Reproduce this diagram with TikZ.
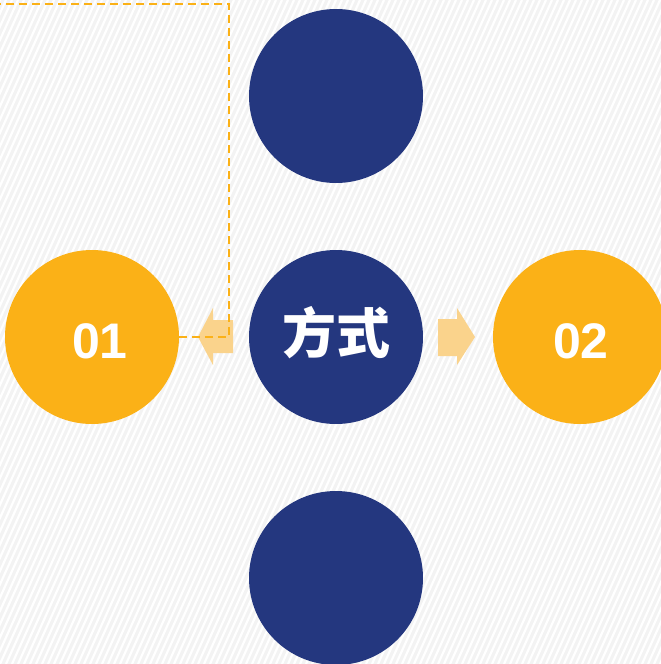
\documentclass[tikz,border=0pt]{standalone}
\usepackage{fontspec}
\setmainfont{Liberation Sans}
\newfontfamily\cjk{Noto Sans CJK SC}
\definecolor{navy}{HTML}{24377F}
\definecolor{gold}{HTML}{FBB117}
\definecolor{paleorange}{HTML}{FAD38C}
\definecolor{bggray}{HTML}{F3F3F3}
\begin{document}
\begin{tikzpicture}[x=1pt,y=-1pt,
  circ/.style={circle,minimum size=174pt,inner sep=0pt},
  navycirc/.style={circ,fill=navy},
  goldcirc/.style={circ,fill=gold},
  lbl/.style={text=white,font=\bfseries\fontsize{50}{50}\selectfont},
  cjklbl/.style={text=white,font=\cjk\bfseries\fontsize{54}{54}\selectfont},
  dashline/.style={draw=gold,line width=1.8pt,dash pattern=on 8pt off 5pt},
  arrowfill/.style={fill=paleorange}]
\useasboundingbox (0,0) rectangle (661,664);
\fill[bggray] (0,0) rectangle (661,664);
\begin{scope}
\clip (0,0) rectangle (661,664);
\foreach \i in {-300,-294,...,700}{
  \draw[white,line width=2.2pt] (\i,664) -- (\i+300,0);
}
\end{scope}
% circles
\node[navycirc] (top) at (336,96) {};
\node[navycirc] (mid) at (336,337) {};
\node[navycirc] (bot) at (336,578) {};
\node[goldcirc] (left) at (92,337) {};
\node[goldcirc] (right) at (580,337) {};
\node[lbl] (t01) at (100,341) {01};
\node[lbl] (t02) at (581,341) {02};
\node[cjklbl] (tmid) at (336,333) {方式};
% arrows
\fill[arrowfill] (233,320) -- (213,320) -- (213,308) -- (198,337) -- (213,365) -- (213,353) -- (233,353) -- cycle;
\fill[arrowfill] (438,319) -- (457,319) -- (457,308) -- (475,337) -- (457,365) -- (457,356) -- (438,356) -- cycle;
% dashed connector
\coordinate (c1) at (229,337);
\coordinate (c2) at (229,4);
\coordinate (c3) at (0,4);
\draw[dashline] (left.east) -- (c1) -- (c2) -- (c3);
\end{tikzpicture}
\end{document}
